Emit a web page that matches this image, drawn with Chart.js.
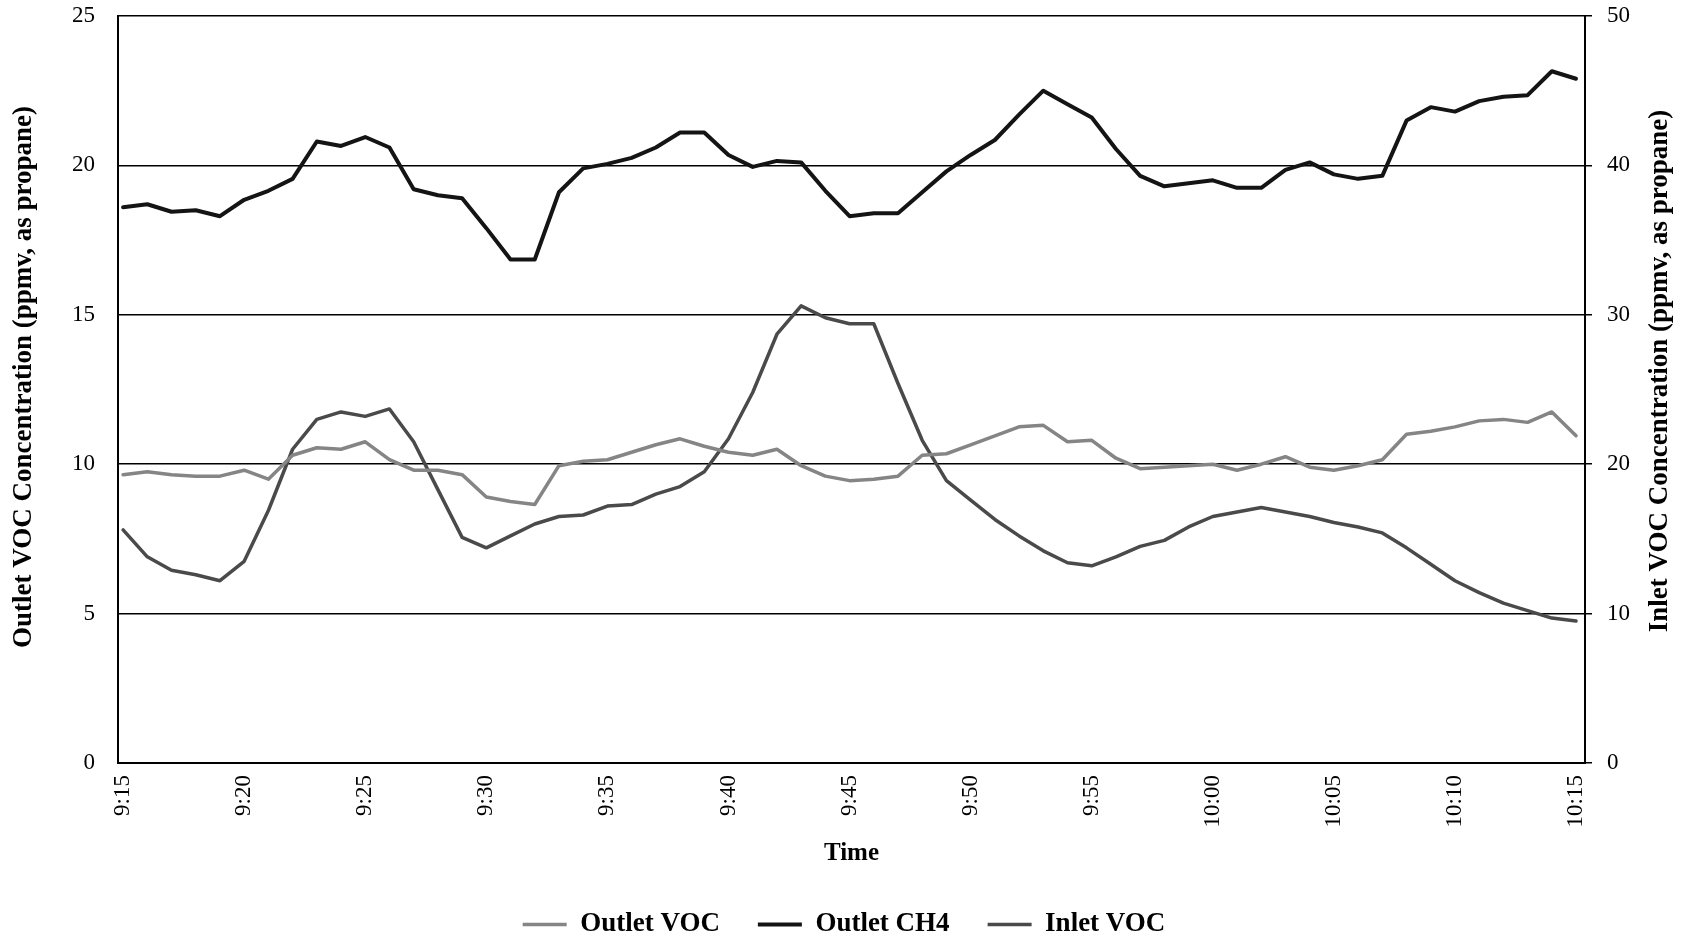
<!DOCTYPE html>
<html>
<head>
<meta charset="utf-8">
<title>Outlet and Inlet VOC</title>
<script src="https://cdn.jsdelivr.net/npm/chart.js@4.4.1/dist/chart.umd.min.js"></script>
<style>
  html, body { margin: 0; padding: 0; background: #fff; }
  canvas { display: block; }
</style>
</head>
<body>
<canvas id="vocChart" width="1688" height="940"></canvas>
<script>
// one reading per minute, 9:15 to 10:15
const times = [
  '9:15', '9:16', '9:17', '9:18', '9:19', '9:20', '9:21', '9:22', '9:23', '9:24',
  '9:25', '9:26', '9:27', '9:28', '9:29', '9:30', '9:31', '9:32', '9:33', '9:34',
  '9:35', '9:36', '9:37', '9:38', '9:39', '9:40', '9:41', '9:42', '9:43', '9:44',
  '9:45', '9:46', '9:47', '9:48', '9:49', '9:50', '9:51', '9:52', '9:53', '9:54',
  '9:55', '9:56', '9:57', '9:58', '9:59', '10:00', '10:01', '10:02', '10:03', '10:04',
  '10:05', '10:06', '10:07', '10:08', '10:09', '10:10', '10:11', '10:12', '10:13', '10:14',
  '10:15'
];
const xTickLabels = ['9:15', '9:20', '9:25', '9:30', '9:35', '9:40', '9:45',
  '9:50', '9:55', '10:00', '10:05', '10:10', '10:15'];

// left axis, ppmv
const outletVOC = [
  9.65, 9.75, 9.65, 9.6, 9.6, 9.8, 9.5, 10.3, 10.55, 10.5, 10.75, 10.15, 9.8, 9.8, 9.65, 8.9, 8.75, 8.65, 9.95, 10.1, 10.15,
  10.4, 10.65, 10.85, 10.6, 10.4, 10.3, 10.5, 9.95, 9.6, 9.45, 9.5, 9.6, 10.3, 10.35, 10.65, 10.95, 11.25, 11.3, 10.75, 10.8,
  10.2, 9.85, 9.9, 9.95, 10.0, 9.8, 10.0, 10.25, 9.9, 9.8, 9.95, 10.15, 11.0, 11.1, 11.25, 11.45, 11.5, 11.4, 11.75, 10.95
];
const outletCH4 = [
  18.6, 18.7, 18.45, 18.5, 18.3, 18.85, 19.15, 19.55, 20.8, 20.65, 20.95, 20.6, 19.2, 19.0, 18.9, 17.9, 16.85, 16.85, 19.1, 19.9, 20.05,
  20.25, 20.6, 21.1, 21.1, 20.35, 19.95, 20.15, 20.1, 19.15, 18.3, 18.4, 18.4, 19.1, 19.8, 20.35, 20.85, 21.7, 22.5, 22.05, 21.6,
  20.55, 19.65, 19.3, 19.4, 19.5, 19.25, 19.25, 19.85, 20.1, 19.7, 19.55, 19.65, 21.5, 21.95, 21.8, 22.15, 22.3, 22.35, 23.15, 22.9
];
// right axis, ppmv
const inletVOC = [
  15.6, 13.8, 12.9, 12.6, 12.2, 13.5, 16.9, 21.0, 23.0, 23.5, 23.2, 23.7, 21.5, 18.3, 15.1, 14.4, 15.2, 16.0, 16.5, 16.6, 17.2,
  17.3, 18.0, 18.5, 19.5, 21.7, 24.8, 28.7, 30.6, 29.8, 29.4, 29.4, 25.4, 21.6, 18.9, 17.6, 16.3, 15.2, 14.2, 13.4, 13.2,
  13.8, 14.5, 14.9, 15.8, 16.5, 16.8, 17.1, 16.8, 16.5, 16.1, 15.8, 15.4, 14.4, 13.3, 12.2, 11.4, 10.7, 10.2, 9.7, 9.5
];

const leftTitle = 'Outlet VOC Concentration (ppmv, as propane)';
const rightTitle = 'Inlet VOC Concentration (ppmv, as propane)';

// minutes after 9:15
function toMinutes(t) {
  const [h, m] = t.split(':').map(Number);
  return (h - 9) * 60 + m - 15;
}

const serif = '"Liberation Serif", "Times New Roman", serif';
Chart.defaults.font.family = serif;
Chart.defaults.color = '#000';

// both side titles read bottom to top, so draw them here
const sideTitles = {
  id: 'sideTitles',
  afterDraw(chart) {
    const ctx = chart.ctx;
    ctx.save();
    ctx.fillStyle = '#000';
    ctx.font = 'bold 27px ' + serif;
    ctx.textAlign = 'center';
    ctx.textBaseline = 'middle';
    [[leftTitle, 24, 377], [rightTitle, 1660, 371]].forEach(([text, x, y]) => {
      ctx.save();
      ctx.translate(x, y);
      ctx.rotate(-Math.PI / 2);
      ctx.fillText(text, 0, 0);
      ctx.restore();
    });
    ctx.restore();
  }
};

// fixed side widths, and no extra top/bottom room for the tick labels
function fixWidth(w) {
  return s => {
    s.width = w;
    s.paddingTop = 0;
    s.paddingBottom = 0;
  };
}

new Chart(document.getElementById('vocChart'), {
  type: 'line',
  data: {
    labels: times.map(toMinutes),
    datasets: [
      {
        label: 'Outlet VOC',
        data: outletVOC,
        yAxisID: 'y',
        borderColor: '#858585',
        backgroundColor: '#858585',
        borderWidth: 3.5
      },
      {
        label: 'Outlet CH4',
        data: outletCH4,
        yAxisID: 'y',
        borderColor: '#141414',
        backgroundColor: '#141414',
        borderWidth: 4
      },
      {
        label: 'Inlet VOC',
        data: inletVOC,
        yAxisID: 'y2',
        borderColor: '#4a4a4a',
        backgroundColor: '#4a4a4a',
        borderWidth: 3.5
      }
    ]
  },
  options: {
    responsive: false,
    animation: false,
    events: [],
    elements: {
      point: { radius: 0 },
      line: { tension: 0, borderJoinStyle: 'round', borderCapStyle: 'round' }
    },
    layout: { padding: { top: 16, left: 0, right: 0, bottom: 0 } },
    plugins: {
      tooltip: { enabled: false },
      legend: {
        position: 'bottom',
        maxHeight: 67,
        labels: {
          usePointStyle: true,
          pointStyle: 'line',
          pointStyleWidth: 44,
          padding: 38,
          color: '#000',
          font: { size: 27, weight: 'bold' }
        }
      }
    },
    scales: {
      x: {
        type: 'linear',
        min: -0.21,
        max: 60.37,
        afterBuildTicks: s => { s.ticks = xTickLabels.map(t => ({ value: toMinutes(t) })); },
        afterFit: s => { s.height = 110; },
        grid: { display: false, drawTicks: false },
        border: { display: true, color: '#000', width: 2 },
        ticks: {
          autoSkip: false,
          minRotation: 90,
          maxRotation: 90,
          padding: 12,
          color: '#000',
          font: { size: 23 },
          callback: (v, i) => xTickLabels[i]
        },
        title: {
          display: true,
          text: 'Time',
          color: '#000',
          font: { size: 25, weight: 'bold' },
          padding: { top: 0, bottom: 4 }
        }
      },
      y: {
        position: 'left',
        min: 0,
        max: 25,
        afterFit: fixWidth(118),
        grid: { color: '#000', lineWidth: 1.5, drawTicks: false },
        border: { display: true, color: '#000', width: 2 },
        ticks: { stepSize: 5, padding: 23, color: '#000', font: { size: 23 } }
      },
      y2: {
        position: 'right',
        min: 0,
        max: 50,
        afterFit: fixWidth(103),
        grid: { drawOnChartArea: false, drawTicks: true, tickLength: 7, color: '#000', lineWidth: 1.5 },
        border: { display: true, color: '#000', width: 2 },
        ticks: { stepSize: 10, padding: 15, color: '#000', font: { size: 23 } }
      }
    }
  },
  plugins: [sideTitles]
});
</script>
</body>
</html>
